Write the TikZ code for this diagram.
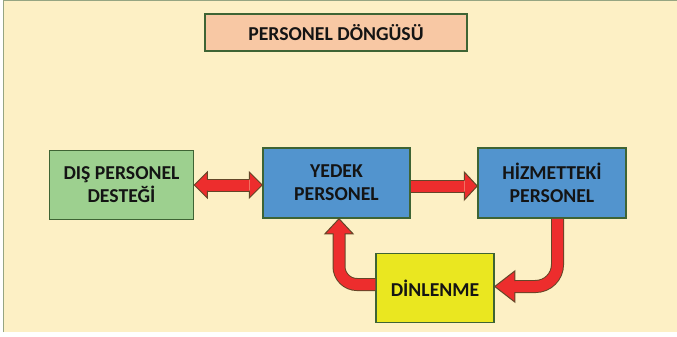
\documentclass[tikz,border=0pt]{standalone}
\usepackage{fontspec}
\setmainfont{Carlito}
\usetikzlibrary{calc}
\definecolor{bgcream}{RGB}{253,240,197}
\definecolor{frameline}{RGB}{150,165,130}
\definecolor{boxedge}{RGB}{62,100,52}
\definecolor{titlepeach}{RGB}{248,200,164}
\definecolor{disgreen}{RGB}{157,208,143}
\definecolor{yedekblue}{RGB}{82,148,206}
\definecolor{restyellow}{RGB}{234,231,32}
\definecolor{arrowred}{RGB}{237,45,45}
\definecolor{arrowedge}{RGB}{100,70,40}
\definecolor{inktext}{RGB}{20,20,20}
\tikzset{
	box/.style={draw=boxedge, line width=1.5pt, align=center, inner sep=2pt, text=inktext, font=\fontsize{19.7}{23}\selectfont\bfseries},
	fatshaft/.style={draw=arrowred, line width=11pt, preaction={draw=arrowedge, line width=13pt}},
	fathead/.style={fill=arrowred, draw=arrowedge, line width=1pt, line join=miter},
}
\begin{document}
\begin{tikzpicture}[x=1pt,y=-1pt]
	\useasboundingbox (0,0) rectangle (677,337);
	% Background
	\fill[bgcream] (3,0) rectangle (677,332);
	\draw[frameline] (3.5,332) -- (3.5,0.5) -- (677,0.5);
	% Boxes
	\node[box, fill=titlepeach, minimum width=262pt, minimum height=37pt] (title) at (336,32.5) {PERSONEL DÖNGÜSÜ};
	\node[box, fill=disgreen, minimum width=144pt, minimum height=69pt] (dis) at (121.5,185) {DIŞ PERSONEL\\DESTEĞİ};
	\node[box, fill=yedekblue, minimum width=147pt, minimum height=70pt] (yedek) at (336.5,183) {YEDEK\\PERSONEL};
	\node[box, fill=yedekblue, minimum width=148pt, minimum height=70pt] (hiz) at (552,183) {HİZMETTEKİ\\PERSONEL};
	\node[box, fill=restyellow, minimum width=118pt, minimum height=69pt] (din) at (435,288) {DİNLENME};
	% Arrows
	\draw[fatshaft] ($(dis.east)+(13,0)$) -- ($(yedek.west |- dis.east)+(-13,0)$);
	\filldraw[fathead] ($(dis.east)+(13,-5.5)$) -- ++(0,-7.5) -- (dis.east) -- ($(dis.east)+(13,13)$) -- ++(0,-7.5);
	\filldraw[fathead] ($(yedek.west |- dis.east)+(-13,-5.5)$) -- ++(0,-7.5) -- (yedek.west |- dis.east) -- ($(yedek.west |- dis.east)+(-13,13)$) -- ++(0,-7.5);
	\draw[fatshaft] ($(yedek.east)+(0,3)$) -- ($(hiz.west)+(-13,3)$);
	\filldraw[fathead] ($(hiz.west)+(-13,-2.5)$) -- ++(0,-8.5) -- ($(hiz.west)+(0,3)$) -- ($(hiz.west)+(-13,17)$) -- ++(0,-8.5);
	\draw[fatshaft, rounded corners=22pt] ($(hiz.south)+(5.5,0)$) |- ($(din.east)+(20,-1.5)$);
	\filldraw[fathead] ($(din.east)+(20,-7)$) -- ++(0,-10) -- ($(din.east)+(0,-1.5)$) -- ($(din.east)+(20,14)$) -- ++(0,-10);
	\draw[fatshaft, rounded corners=18pt] ($(din.west)+(0,-3.5)$) -| ($(yedek.south)+(2.5,15)$);
	\filldraw[fathead] ($(yedek.south)+(-3,15)$) -- ++(-8.5,0) -- ($(yedek.south)+(2.5,0)$) -- ($(yedek.south)+(16.5,15)$) -- ++(-8.5,0);
\end{tikzpicture}
\end{document}
